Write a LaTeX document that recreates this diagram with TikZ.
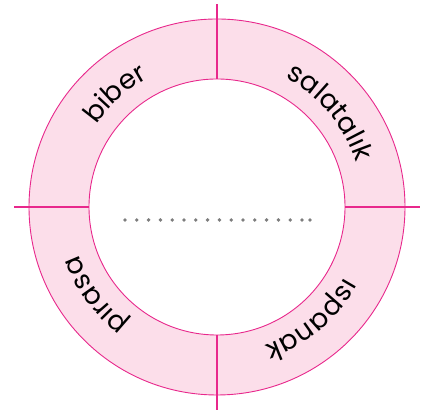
\documentclass[tikz,border=0pt]{standalone}
\usepackage{fontspec}
\setmainfont{Poppins}
\usetikzlibrary{decorations.text, calc}
\definecolor{ring}{RGB}{232, 40, 140}
\definecolor{softring}{RGB}{252, 222, 234}
\definecolor{dotgray}{RGB}{125, 125, 125}
\newcommand{\labelfont}{\fontsize{27}{30}\selectfont}

\begin{document}
\begin{tikzpicture}[
	x=1pt, y=1pt,
	% Styles for the ring and its labels
	ringline/.style={draw=ring, line width=0.9pt},
	ringband/.style={fill=softring, even odd rule},
	crossline/.style={draw=ring, line width=1.1pt},
	arclabel/.style={decorate, decoration={text along path, text align=center,
		text={|\labelfont|#1}}},
	dot/.style={fill=dotgray}
	]
	\useasboundingbox (0,0) rectangle (429,411);
	\coordinate (O) at (217,204);
	
	% ==========================================
	% 1. RING (outer r=188, inner r=128)
	% ==========================================
	\path[ringband] (O) circle[radius=188] (O) circle[radius=128];
	\draw[ringline] (O) circle[radius=188];
	\draw[ringline] (O) circle[radius=128];
	
	% Dividers: from the inner circle out past the outer one
	\foreach \a in {0,90,180,270}
		\draw[crossline] ($(O)+(\a:128)$) -- ($(O)+(\a:203)$);
	
	% ==========================================
	% 2. LABELS (clockwise, tops pointing out)
	% ==========================================
	\path[arclabel={biber}] ($(O)+(177:146)$) arc[start angle=177, end angle=87, radius=146];
	\path[arclabel={salatalık}] ($(O)+(85:146)$) arc[start angle=85, end angle=-5, radius=146];
	\path[arclabel={ıspanak}] ($(O)+(-5:146)$) arc[start angle=-5, end angle=-95, radius=146];
	\path[arclabel={pırasa}] ($(O)+(261:146)$) arc[start angle=261, end angle=171, radius=146];
	
	% ==========================================
	% 3. DOTTED ANSWER LINE
	% ==========================================
	\foreach \i in {0,...,15}
		\fill[dot] ($(O)+(-92+\i*11.8,-13)$) circle[radius=1.9];
	\fill[dot] ($(O)+(93,-13)$) circle[radius=1.9];
\end{tikzpicture}
\end{document}
